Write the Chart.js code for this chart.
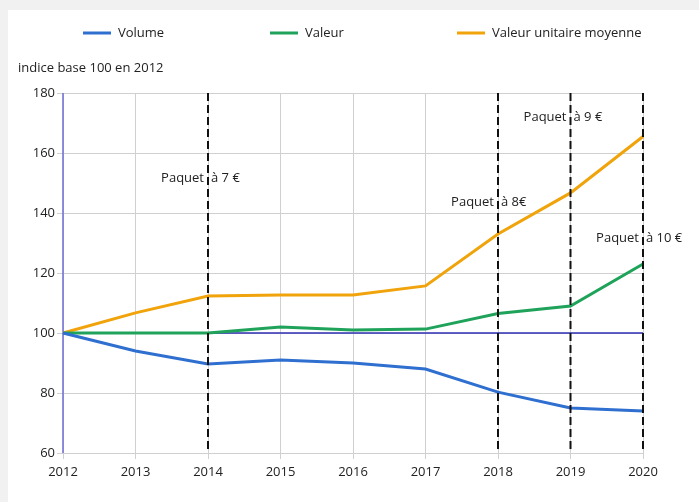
<!DOCTYPE html>
<html>
<head>
<meta charset="utf-8">
<script src="https://cdn.jsdelivr.net/npm/chart.js@4.4.1/dist/chart.umd.min.js"></script>
<style>
  html, body { margin: 0; padding: 0; background: #f1f1f1; }
  canvas { display: block; }
</style>
</head>
<body>
<canvas id="myChart" width="699" height="502"></canvas>
<script>
// data
const years = ["2012", "2013", "2014", "2015", "2016", "2017", "2018", "2019", "2020"];
const volume = [100, 94, 89.7, 91, 90, 88, 80.3, 75, 74];
const valeur = [100, 100, 100, 102, 101, 101.3, 106.5, 109, 123];
const valeurUnitaire = [100, 106.7, 112.3, 112.7, 112.7, 115.7, 133, 146.7, 165.5];
const yTicks = [60, 80, 100, 120, 140, 160, 180];
const baseValue = 100;

// price changes of the pack
const paquetYears = ["2014", "2018", "2019", "2020"];
const paquetPrices = ["à 7 €", "à 8€", "à 9 €", "à 10 €"];
const paquetLabelY = [151.5, 143.5, 172, 131.5];

const fontFamily = "'Open Sans', 'Noto Sans', sans-serif";

const background = {
  id: "background",
  beforeDraw(chart) {
    const ctx = chart.ctx;
    ctx.save();
    ctx.fillStyle = "#f1f1f1";
    ctx.fillRect(0, 0, chart.width, chart.height);
    ctx.fillStyle = "#ffffff";
    ctx.fillRect(8, 10, chart.width - 8, chart.height - 10);
    ctx.restore();
  }
};

// blue base line at 100 and blue left axis
const baseLines = {
  id: "baseLines",
  beforeDatasetsDraw(chart) {
    const ctx = chart.ctx;
    const ys = chart.scales.y, area = chart.chartArea;
    const y = ys.getPixelForValue(baseValue);
    ctx.save();
    ctx.lineWidth = 1.4;
    ctx.strokeStyle = "#2e2eb4";
    ctx.beginPath();
    ctx.moveTo(area.left, y);
    ctx.lineTo(area.right, y);
    ctx.stroke();
    ctx.lineWidth = 1.6;
    ctx.strokeStyle = "#7474d6";
    ctx.beginPath();
    ctx.moveTo(area.left, area.top);
    ctx.lineTo(area.left, area.bottom);
    ctx.stroke();
    ctx.restore();
  }
};

const legendAndTitle = {
  id: "legendAndTitle",
  afterDraw(chart) {
    const ctx = chart.ctx;
    const starts = [83, 270, 457];
    ctx.save();
    ctx.font = "13px " + fontFamily;
    ctx.textBaseline = "middle";
    chart.data.datasets.forEach(function(ds, i) {
      ctx.strokeStyle = ds.borderColor;
      ctx.lineWidth = 3;
      ctx.beginPath();
      ctx.moveTo(starts[i], 33);
      ctx.lineTo(starts[i] + 28, 33);
      ctx.stroke();
      ctx.fillStyle = "#222";
      ctx.fillText(ds.label, starts[i] + 35, 33);
    });
    ctx.fillText("indice base 100 en 2012", 18, 68);
    ctx.restore();
  }
};

const paquets = {
  id: "paquets",
  afterDatasetsDraw(chart) {
    const ctx = chart.ctx;
    const xs = chart.scales.x, ys = chart.scales.y, area = chart.chartArea;
    ctx.save();
    paquetYears.forEach(function(yr, i) {
      const x = xs.getPixelForValue(years.indexOf(yr));
      ctx.strokeStyle = "#111";
      ctx.lineWidth = 2;
      ctx.setLineDash([8, 4]);
      ctx.beginPath();
      ctx.moveTo(x, area.top);
      ctx.lineTo(x, area.bottom);
      ctx.stroke();
      ctx.setLineDash([]);
      ctx.font = "13px " + fontFamily;
      ctx.textBaseline = "middle";
      ctx.fillStyle = "#222";
      const y = ys.getPixelForValue(paquetLabelY[i]);
      ctx.textAlign = "right";
      ctx.fillText("Paquet", x - 4, y);
      ctx.textAlign = "left";
      ctx.fillText(paquetPrices[i], x + 3, y);
    });
    ctx.restore();
  }
};

new Chart("myChart", {
  type: "line",
  data: {
    labels: years,
    datasets: [
      { label: "Volume", data: volume, borderColor: "#2f6fd0", borderWidth: 3, pointRadius: 0, tension: 0 },
      { label: "Valeur", data: valeur, borderColor: "#1fa35a", borderWidth: 3, pointRadius: 0, tension: 0 },
      { label: "Valeur unitaire moyenne", data: valeurUnitaire, borderColor: "#f0a30a", borderWidth: 3, pointRadius: 0, tension: 0 }
    ]
  },
  options: {
    responsive: false,
    animation: false,
    layout: { padding: { top: 93, right: 56, left: 0, bottom: 0 } },
    plugins: {
      legend: { display: false },
      title: { display: false },
      tooltip: { enabled: false }
    },
    scales: {
      x: {
        afterFit: function(scale) { scale.height = 49; },
        grid: { color: "#d0d0d0", lineWidth: 1, tickLength: 6 },
        border: { color: "#d0d0d0" },
        ticks: { color: "#222", font: { family: fontFamily, size: 13 }, padding: 5, maxRotation: 0 }
      },
      y: {
        min: 60,
        max: 180,
        afterFit: function(scale) { scale.width = 63; },
        afterBuildTicks: function(scale) { scale.ticks = yTicks.map(v => ({ value: v })); },
        grid: { color: "#d0d0d0", lineWidth: 1, tickLength: 6 },
        border: { color: "#d0d0d0" },
        ticks: { color: "#222", font: { family: fontFamily, size: 13 }, padding: 2 }
      }
    }
  },
  plugins: [background, baseLines, legendAndTitle, paquets]
});
</script>
</body>
</html>
